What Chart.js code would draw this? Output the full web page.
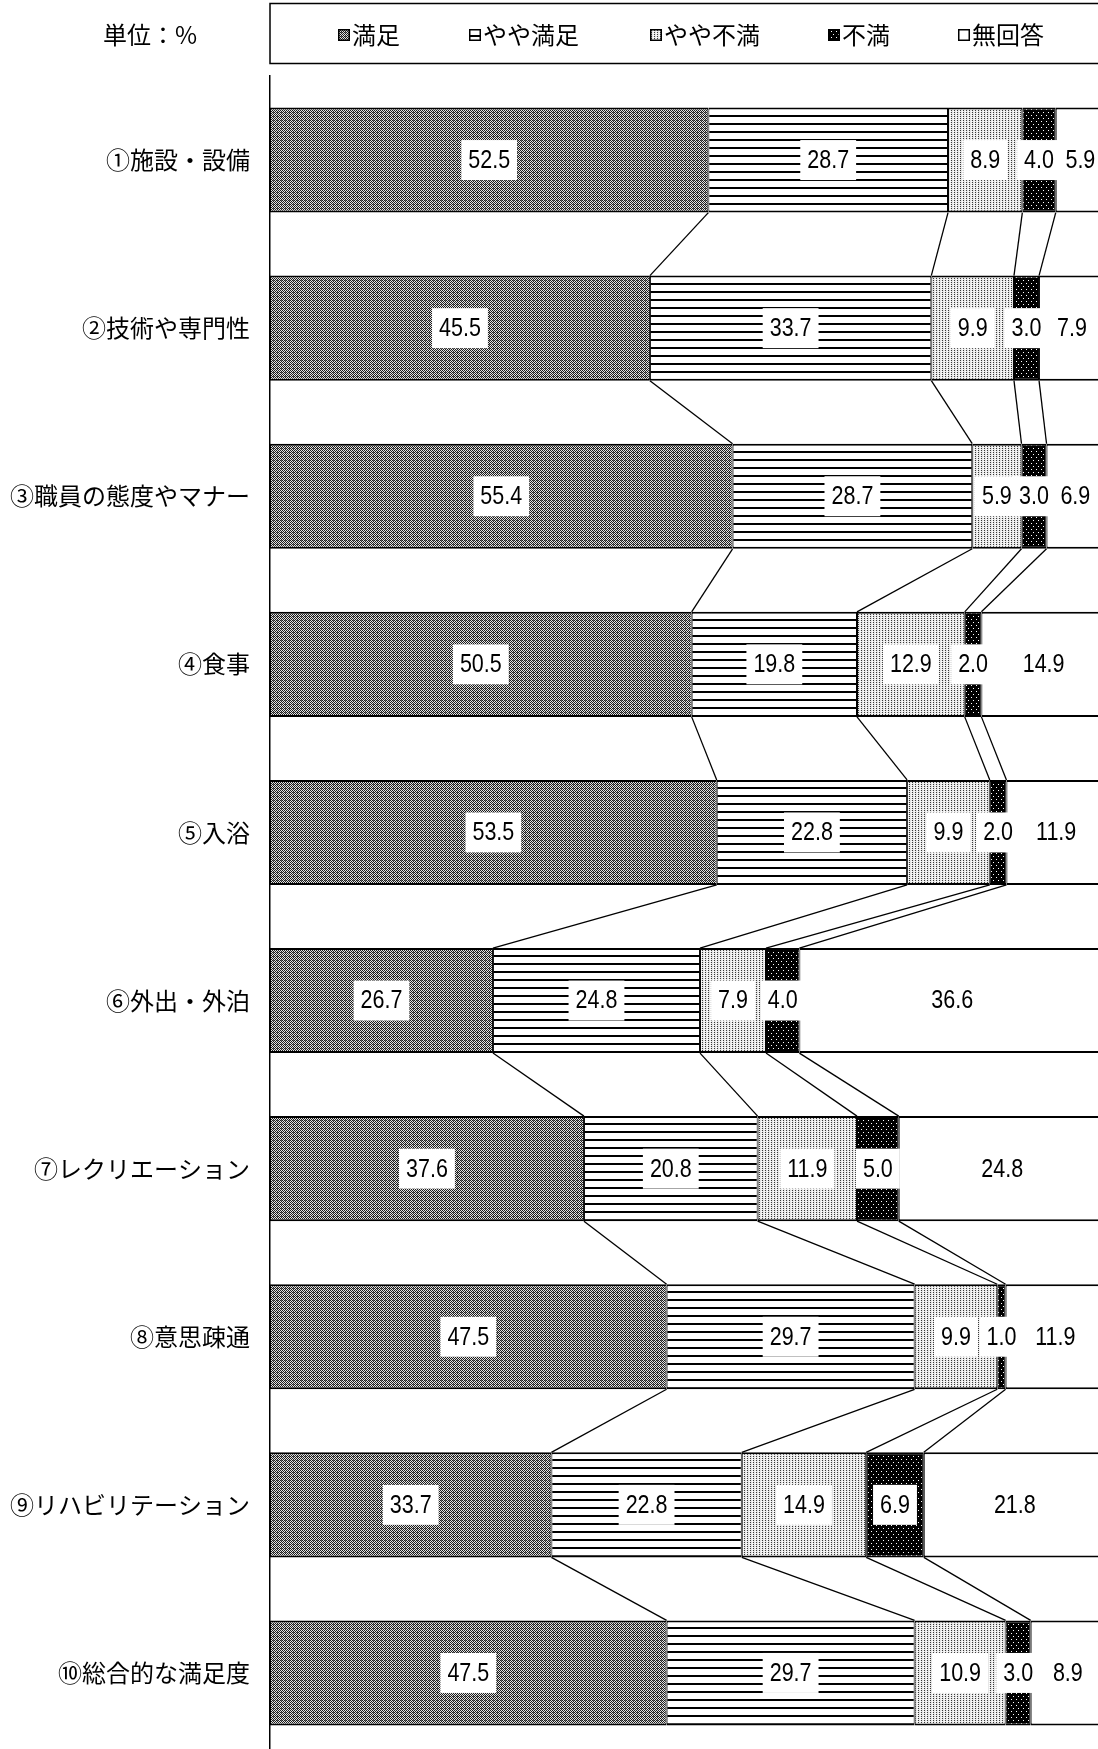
<!DOCTYPE html>
<html>
<head>
<meta charset="utf-8">
<script src="https://cdn.jsdelivr.net/npm/chart.js@4/dist/chart.umd.min.js"></script>
<style>
  html, body { margin: 0; padding: 0; background: #fff; overflow: hidden; }
  #chart { position: absolute; left: 0; top: 0; }
</style>
</head>
<body>
<canvas id="chart" width="1105" height="1760"></canvas>
<script>
const categories = ['①施設・設備', '②技術や専門性', '③職員の態度やマナー', '④食事', '⑤入浴',
  '⑥外出・外泊', '⑦レクリエーション', '⑧意思疎通', '⑨リハビリテーション', '⑩総合的な満足度'];
const seriesNames = ['満足', 'やや満足', 'やや不満', '不満', '無回答'];
const satisfied = [52.5, 45.5, 55.4, 50.5, 53.5, 26.7, 37.6, 47.5, 33.7, 47.5];
const fairlySatisfied = [28.7, 33.7, 28.7, 19.8, 22.8, 24.8, 20.8, 29.7, 22.8, 29.7];
const fairlyDissatisfied = [8.9, 9.9, 5.9, 12.9, 9.9, 7.9, 11.9, 9.9, 14.9, 10.9];
const dissatisfied = [4.0, 3.0, 3.0, 2.0, 2.0, 4.0, 5.0, 1.0, 6.9, 3.0];
const noAnswer = [5.9, 7.9, 6.9, 14.9, 11.9, 36.6, 24.8, 11.9, 21.8, 8.9];
const unitLabel = '単位：%';

const cjkFont = '"Noto Sans CJK JP", "Noto Sans", sans-serif';
const numFont = '"Liberation Sans Narrow", "Liberation Sans", Arial, sans-serif';
const legendX = [338, 469, 650, 828, 958];

const ctx = document.getElementById('chart').getContext('2d');

// small tile patterns, like the hatches of the printed chart
function makePattern(w, h, draw) {
  const c = document.createElement('canvas');
  c.width = w;
  c.height = h;
  draw(c.getContext('2d'));
  return ctx.createPattern(c, 'repeat');
}

const patterns = [
  makePattern(4, 4, g => {
    g.fillStyle = '#e2e2e2';
    g.fillRect(0, 0, 4, 4);
    g.fillStyle = '#1c1c1c';
    for (let y = 0; y < 4; y++) {
      for (let x = 0; x < 4; x++) {
        if ((x + y) % 2 === 0) g.fillRect(x, y, 1, 1);
      }
    }
    g.fillStyle = '#666';
    g.fillRect(1, 0, 1, 1);
  }),
  makePattern(4, 8, g => {
    g.fillStyle = '#fff';
    g.fillRect(0, 0, 4, 8);
    g.fillStyle = '#000';
    g.fillRect(0, 3, 4, 2);
  }),
  makePattern(3, 2, g => {
    g.fillStyle = '#e6e6e6';
    g.fillRect(0, 0, 3, 2);
    g.fillStyle = '#3a3a3a';
    g.fillRect(0, 0, 1, 1);
    g.fillStyle = '#fff';
    g.fillRect(2, 1, 1, 1);
  }),
  makePattern(5, 6, g => {
    g.fillStyle = '#000';
    g.fillRect(0, 0, 5, 6);
    g.fillStyle = '#fff';
    g.fillRect(1, 1, 1, 1);
    g.fillRect(3, 4, 1, 1);
  }),
  '#ffffff',
];

const seriesValues = [satisfied, fairlySatisfied, fairlyDissatisfied, dissatisfied, noAnswer];

const datasets = seriesNames.map((name, i) => ({
  label: name,
  data: seriesValues[i],
  backgroundColor: patterns[i],
  borderColor: '#000',
  borderWidth: { top: 2, bottom: 2, left: 1, right: 1 },
  borderSkipped: false,
  barPercentage: 0.625,
  categoryPercentage: 1,
}));

// header: unit text + legend box
const headerPlugin = {
  id: 'header',
  afterDraw(chart) {
    const c = chart.ctx;
    const left = chart.chartArea.left;
    c.save();
    c.strokeStyle = '#000';
    c.lineWidth = 1.5;
    c.strokeRect(left, 3.5, chart.width + 20, 60);

    c.fillStyle = '#000';
    c.font = '24px ' + cjkFont;
    c.textBaseline = 'middle';
    c.textAlign = 'left';
    c.fillText(unitLabel, 103, 35);

    seriesNames.forEach((name, i) => {
      const x = legendX[i];
      c.fillStyle = patterns[i];
      c.fillRect(x, 29, 12, 12);
      c.strokeStyle = '#000';
      c.lineWidth = 1.5;
      c.strokeRect(x + 0.75, 29.75, 10.5, 10.5);
      c.fillStyle = '#000';
      c.font = '24px ' + cjkFont;
      c.fillText(name, x + 14, 35);
    });
    c.restore();
  },
};

// lines joining the segment edges of neighbouring bars
const connectorPlugin = {
  id: 'connectors',
  afterDatasetsDraw(chart) {
    const c = chart.ctx;
    c.save();
    c.strokeStyle = '#000';
    c.lineWidth = 1.3;
    for (let k = 0; k < 4; k++) {
      const meta = chart.getDatasetMeta(k);
      for (let i = 0; i < meta.data.length - 1; i++) {
        const a = meta.data[i];
        const b = meta.data[i + 1];
        c.beginPath();
        c.moveTo(a.x, a.y + a.height / 2);
        c.lineTo(b.x, b.y - b.height / 2);
        c.stroke();
      }
    }
    c.restore();
  },
};

// value labels in white boxes (narrow digits)
const valuePlugin = {
  id: 'values',
  afterDatasetsDraw(chart) {
    const c = chart.ctx;
    const sx = 0.86;
    c.save();
    c.font = '25px ' + numFont;
    c.textAlign = 'center';
    c.textBaseline = 'middle';
    chart.data.datasets.forEach((ds, k) => {
      const meta = chart.getDatasetMeta(k);
      meta.data.forEach((bar, i) => {
        const cx = (bar.x + bar.base) / 2;
        const txt = ds.data[i].toFixed(1);
        const w = c.measureText(txt).width * sx;
        if (k < 4) {
          c.fillStyle = '#fff';
          c.fillRect(cx - w / 2 - 7, bar.y - 20, w + 14, 40);
        }
        c.save();
        c.translate(cx, bar.y + 1);
        c.scale(sx, 1);
        c.fillStyle = '#000';
        c.fillText(txt, 0, 0);
        c.restore();
      });
    });
    c.restore();
  },
};

new Chart(ctx, {
  type: 'bar',
  data: { labels: categories, datasets: datasets },
  options: {
    indexAxis: 'y',
    responsive: false,
    animation: false,
    layout: { padding: { top: 76, bottom: 3, left: 0, right: 0 } },
    scales: {
      x: { stacked: true, min: 0, max: 100, display: false },
      y: {
        stacked: true,
        grid: { display: false, drawTicks: false },
        border: { display: true, color: '#000', width: 1.5 },
        ticks: { color: '#000', font: { size: 24, family: cjkFont }, padding: 20 },
        afterFit(scale) {
          scale.width = 270;
          scale.paddingTop = 0;
          scale.paddingBottom = 0;
        },
      },
    },
    plugins: {
      legend: { display: false },
      tooltip: { enabled: false },
    },
  },
  plugins: [headerPlugin, connectorPlugin, valuePlugin],
});
</script>
</body>
</html>
